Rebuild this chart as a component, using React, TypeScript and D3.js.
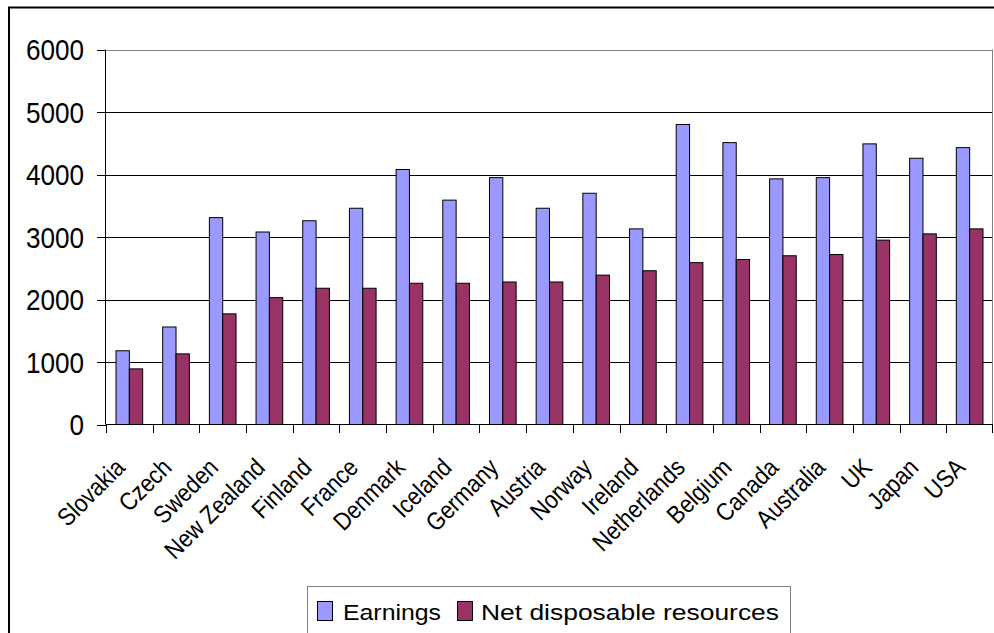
import * as d3 from "d3";

const countries = [
  "Slovakia", "Czech", "Sweden", "New Zealand", "Finland", "France", "Denmark",
  "Iceland", "Germany", "Austria", "Norway", "Ireland", "Netherlands", "Belgium",
  "Canada", "Australia", "UK", "Japan", "USA",
];
const earnings = [
  1180, 1560, 3310, 3080, 3260, 3460, 4080, 3590, 3950, 3460, 3700, 3130, 4800,
  4510, 3930, 3950, 4490, 4260, 4430,
];
const netResources = [
  890, 1130, 1770, 2030, 2180, 2180, 2260, 2260, 2280, 2280, 2390, 2460, 2590,
  2640, 2700, 2720, 2950, 3050, 3130,
];
const seriesNames = ["Earnings", "Net disposable resources"];
const seriesColors = ["#9999ff", "#993366"];
const yTicks = [0, 1000, 2000, 3000, 4000, 5000, 6000];

const W = 994;
const H = 633;
const left = 106;
const right = 993;
const top = 49.5;
const bottom = 424.5;
const font = "'Liberation Sans', Arial, sans-serif";

// legend placement (swatch x, text x, text width)
const legendItems = [
  { sx: 317, tx: 343, len: 98 },
  { sx: 457, tx: 481, len: 298 },
];

export default function App() {
  const x0 = d3.scaleBand<string>().domain(countries).range([left, right]).padding(0);
  const x1 = d3
    .scaleBand<string>()
    .domain(seriesNames)
    .range([0, x0.bandwidth()])
    .paddingInner(0)
    .paddingOuter(0.75);
  const y = d3.scaleLinear().domain([0, 6000]).range([bottom, top]);
  const values = [earnings, netResources];

  return (
    <svg
      width={W}
      height={H}
      style={{ position: "absolute", left: 0, top: 0, background: "#fff" }}
      fontFamily={font}
    >
      {/* outer chart border */}
      <rect x={9} y={7.5} width={W + 20} height={H + 20} fill="none" stroke="#000" strokeWidth={2} />

      {/* gridlines */}
      {yTicks.slice(1).map((t) => (
        <line
          key={t}
          x1={left}
          x2={right}
          y1={Math.round(y(t)) + 0.5}
          y2={Math.round(y(t)) + 0.5}
          stroke={t === 6000 ? "#808080" : "#000"}
          strokeWidth={1}
        />
      ))}
      <line x1={right - 0.5} x2={right - 0.5} y1={top} y2={bottom} stroke="#808080" />

      {/* bars */}
      {countries.map((c, i) => (
        <g key={c} transform={`translate(${x0(c)},0)`}>
          {seriesNames.map((s, k) => (
            <rect
              key={s}
              x={x1(s)}
              y={y(values[k][i])}
              width={x1.bandwidth()}
              height={bottom - y(values[k][i])}
              fill={seriesColors[k]}
              stroke="#000"
              strokeWidth={1}
            />
          ))}
        </g>
      ))}

      {/* y axis */}
      <line x1={left - 0.5} x2={left - 0.5} y1={top} y2={bottom} stroke="#000" />
      {yTicks.map((t) => (
        <g key={t}>
          <line x1={97} x2={left} y1={Math.round(y(t)) + 0.5} y2={Math.round(y(t)) + 0.5} stroke="#000" />
          <text
            transform={`translate(84,${y(t)}) scale(0.87,1)`}
            dy="0.36em"
            textAnchor="end"
            fontSize={30}
          >
            {t}
          </text>
        </g>
      ))}

      {/* x axis */}
      <line x1={left} x2={right} y1={bottom} y2={bottom} stroke="#000" />
      {countries.map((c) => (
        <line
          key={c}
          x1={Math.round(x0(c)!) + 0.5}
          x2={Math.round(x0(c)!) + 0.5}
          y1={bottom}
          y2={433}
          stroke="#000"
        />
      ))}
      <line x1={right - 0.5} x2={right - 0.5} y1={bottom} y2={433} stroke="#000" />
      {countries.map((c) => {
        const cx = x0(c)! + x0.bandwidth() / 2 - 3;
        return (
          <text
            key={c}
            transform={`translate(${cx},469) rotate(-45) scale(0.88,1)`}
            textAnchor="end"
            fontSize={25}
          >
            {c}
          </text>
        );
      })}

      {/* legend */}
      <rect x={307.5} y={586.5} width={483} height={60} fill="#fff" stroke="#808080" />
      {seriesNames.map((s, k) => {
        const it = legendItems[k];
        return (
          <g key={s}>
            <rect x={it.sx + 0.5} y={601.5} width={15} height={19} fill={seriesColors[k]} stroke="#000" />
            <text
              x={it.tx}
              y={620}
              fontSize={22}
              textLength={it.len}
              lengthAdjust="spacingAndGlyphs"
            >
              {s}
            </text>
          </g>
        );
      })}
    </svg>
  );
}
